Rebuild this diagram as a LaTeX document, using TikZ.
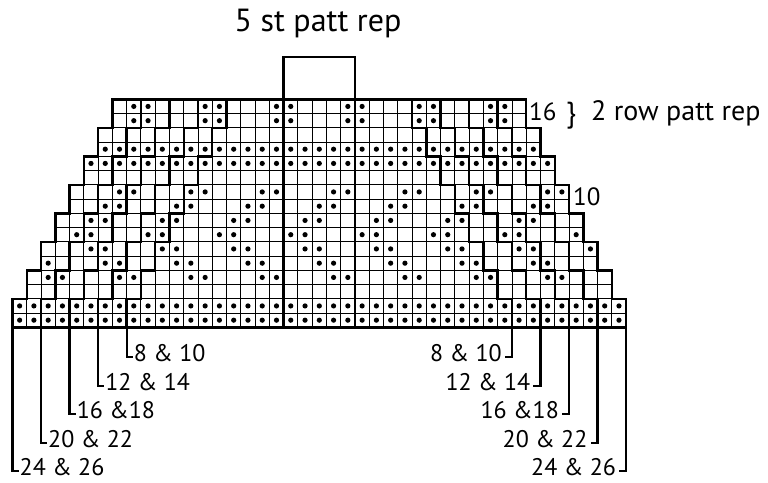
\documentclass[tikz,border=0pt]{standalone}
\usepackage{fontspec}
\setmainfont{PT Sans}
\begin{document}
\begin{tikzpicture}[x=1pt,y=-1pt,
  gridln/.style={line width=0.9pt},
  boldln/.style={line width=2.4pt, line join=miter, line cap=rect},
  lblln/.style={line width=2.2pt, line join=miter},
  lbl/.style={font=\fontsize{27}{30}\selectfont, inner sep=0pt},
  sizelbl/.style={font=\fontsize{24}{28}\selectfont, inner sep=0pt},
  rowlbl/.style={font=\fontsize{25}{28}\selectfont, inner sep=0pt}]
\useasboundingbox (0,0) rectangle (768,482);

% cell width/height, chart left edge, chart bottom edge
\def\cw{14.27}\def\ch{14.25}\def\xo{12.5}\def\yb{327.3}

% chart cells and purl dots, row by row from the bottom
\foreach \r in {1,...,16}{
  \pgfmathtruncatemacro\L{(\r-1)/2}
  \pgfmathtruncatemacro\R{42-\L}
  \pgfmathtruncatemacro\kind{(\r==1||\r==2||\r==12||\r==13) ? 1 : ((\r>=4 && \r<=10) ? 2 : ((\r>=15) ? 3 : 0))}
  \pgfmathtruncatemacro\s{(\kind==2) ? abs(\r-7)-1 : 3}
  \foreach \c in {\L,...,\R}{
    \draw[gridln] (\xo+\c*\cw, \yb-\r*\ch) rectangle ++(\cw,\ch);
    \pgfmathtruncatemacro\m{mod(\c-\s+10,5)}
    \pgfmathtruncatemacro\isdot{(\kind==1) || ((\kind>=2) && (\m<2))}
    \ifnum\isdot=1
      \fill (\xo+\c*\cw+0.5*\cw, \yb-\r*\ch+0.5*\ch) circle[radius=2.6];
    \fi
  }
}

% outline of the largest size
\draw[boldln] (\xo,\yb) \foreach \j in {1,...,7}{ -- ++(0,-2*\ch) -- ++(\cw,0) } -- ++(0,-2*\ch)
  -- (\xo+36*\cw, \yb-16*\ch) \foreach \j in {1,...,7}{ -- ++(0,2*\ch) -- ++(\cw,0) } -- ++(0,2*\ch) -- cycle;

% edges of the smaller sizes
\foreach \k in {1,...,4}{
  \draw[boldln] (\xo+2*\k*\cw, \yb) \foreach \j in {1,...,7}{ -- ++(0,-2*\ch) -- ++(\cw,0) } -- ++(0,-2*\ch);
  \draw[boldln] (\xo+43*\cw-2*\k*\cw, \yb) \foreach \j in {1,...,7}{ -- ++(0,-2*\ch) -- ++(-\cw,0) } -- ++(0,-2*\ch);
}

% 5 stitch pattern repeat box
\coordinate (repBL) at (\xo+19*\cw, \yb);
\coordinate (repBR) at (\xo+24*\cw, \yb);
\draw[boldln] (repBL) -- (\xo+19*\cw, 57) -- (\xo+24*\cw, 57) -- (repBR);
\node[lbl, font=\fontsize{32}{36}\selectfont] (reptxt) at (318,23) {5 st patt rep};

% row numbers and row repeat note
\node[rowlbl, anchor=base west] (row16) at (529,120) {16};
\node[lbl, font=\fontsize{29}{32}\selectfont, anchor=base west] (brace) at (566,122) {\}};
\node[lbl, font=\fontsize{28}{31}\selectfont, anchor=base west] (rowrep) at (591,120) {2 row patt rep};
\node[rowlbl, anchor=base west] (row10) at (573,205) {10};

% size labels with their edge lines
\foreach \k/\txt/\bl in {0/{24 \& 26}/475, 1/{20 \& 22}/447, 2/{16 \&18}/418, 3/{12 \& 14}/390, 4/{8 \& 10}/361}{
  \coordinate (szL\k) at (\xo+2*\k*\cw, \yb);
  \coordinate (szR\k) at (\xo+43*\cw-2*\k*\cw, \yb);
  \node[sizelbl, anchor=base west] (labL\k) at (\xo+2*\k*\cw+7, \bl) {\txt};
  \node[sizelbl, anchor=base east] (labR\k) at (\xo+43*\cw-2*\k*\cw-10, \bl) {\txt};
  \draw[lblln] (szL\k) |- ([xshift=-1pt,yshift=4pt]labL\k.base west);
  \draw[lblln] (szR\k) |- ([xshift=3pt,yshift=4pt]labR\k.base east);
}
\end{tikzpicture}
\end{document}
